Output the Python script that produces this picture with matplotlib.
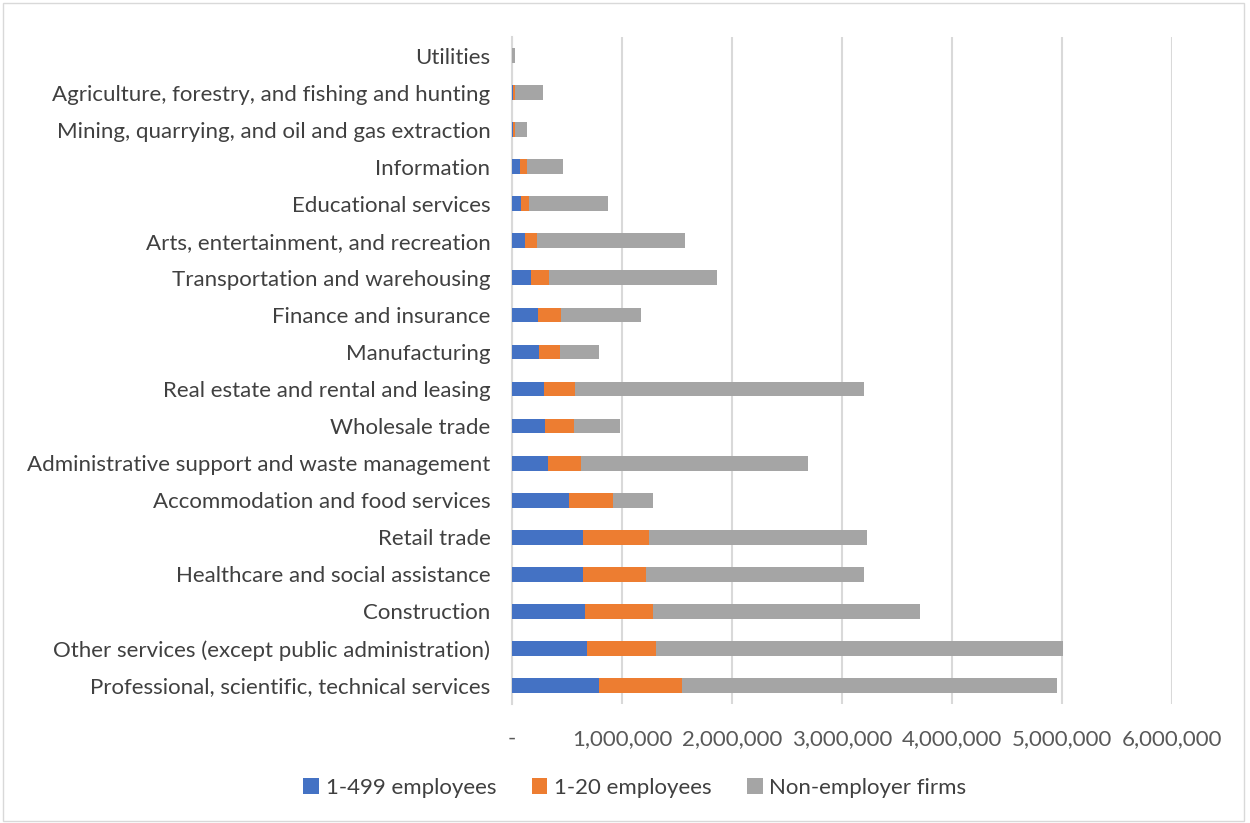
import matplotlib.pyplot as plt
from matplotlib.ticker import FuncFormatter
from matplotlib.patches import Rectangle

plt.rcParams['font.family'] = ['Lato', 'DejaVu Sans']

# categories from bottom to top
industries = [
    "Professional, scientific, technical services",
    "Other services (except public administration)",
    "Construction",
    "Healthcare and social assistance",
    "Retail trade",
    "Accommodation and food services",
    "Administrative support and waste management",
    "Wholesale trade",
    "Real estate and rental and leasing",
    "Manufacturing",
    "Finance and insurance",
    "Transportation and warehousing",
    "Arts, entertainment, and recreation",
    "Educational services",
    "Information",
    "Mining, quarrying, and oil and gas extraction",
    "Agriculture, forestry, and fishing and hunting",
    "Utilities",
]
emp_1_499 = [794000, 679000, 667000, 645000, 645000, 518000, 330000, 303000, 291000,
             248000, 239000, 176000, 121000, 82000, 73000, 9000, 10000, 2000]
emp_1_20 = [754000, 633000, 618000, 576000, 598000, 403000, 297000, 261000, 279000,
            185000, 209000, 163000, 106000, 75000, 66000, 14000, 15000, 2000]
non_employer = [3404000, 3694000, 2424000, 1976000, 1981000, 361000, 2064000, 418000, 2630000,
                358000, 728000, 1522000, 1343000, 716000, 327000, 115000, 255000, 22000]
series_names = ["1-499 employees", "1-20 employees", "Non-employer firms"]
colors = ["#4472C4", "#ED7D31", "#A5A5A5"]

fig = plt.figure(figsize=(12.5, 8.23), dpi=100)
ax = fig.add_axes([512 / 1250, 1 - 704 / 823, (1172 - 512) / 1250, (704 - 37) / 823])

y = range(len(industries))
left = [0] * len(industries)
for vals, name, c in zip([emp_1_499, emp_1_20, non_employer], series_names, colors):
    ax.barh(y, vals, left=left, height=0.4, color=c, label=name, zorder=3)
    left = [a + b for a, b in zip(left, vals)]

ax.set_ylim(-0.5, len(industries) - 0.5)
ax.set_xlim(0, 6000000)
ax.set_xticks(range(0, 6000001, 1000000))
ax.xaxis.set_major_formatter(FuncFormatter(lambda v, p: "-" if v == 0 else f"{int(v):,}"))
ax.set_yticks(list(y))
ax.set_yticklabels(industries)
ax.tick_params(axis='y', length=0, pad=15.5, labelsize=16, labelcolor="#404040")
ax.tick_params(axis='x', length=0, pad=18, labelsize=16, labelcolor="#595959")
ax.grid(axis='x', color="#d9d9d9", linewidth=1.5, zorder=0)
for s in ["top", "right", "bottom"]:
    ax.spines[s].set_visible(False)
ax.spines["left"].set_color("#d9d9d9")
ax.spines["left"].set_linewidth(1.5)

leg = fig.legend(loc="center", bbox_to_anchor=(0.508, 1 - 788 / 823), ncol=3, frameon=False,
                 fontsize=16, handlelength=0.7, handleheight=0.7, columnspacing=1.6,
                 handletextpad=0.3)
for t in leg.get_texts():
    t.set_color("#404040")

fig.patches.append(Rectangle((0.002, 0.003), 0.993, 0.993, transform=fig.transFigure,
                             fill=False, edgecolor="#d9d9d9", linewidth=1))

fig.savefig("out.png", dpi=100)
